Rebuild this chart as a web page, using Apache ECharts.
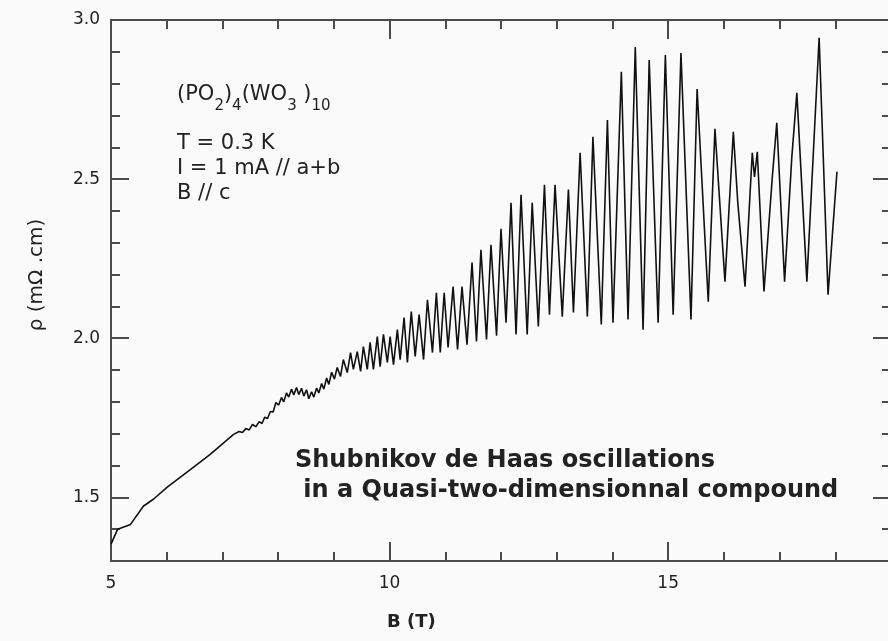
<!DOCTYPE html>
<html>
<head>
<meta charset="utf-8">
<title>Shubnikov de Haas oscillations</title>
<script src="https://cdn.jsdelivr.net/npm/echarts@6/dist/echarts.min.js"></script>
<style>
html, body { margin: 0; padding: 0; background: #fafafa; }
#chart { width: 888px; height: 641px; }
</style>
</head>
<body>
<div id="chart"></div>
<script>
// B (T) and rho (mOhm.cm)
var field = [
    5.00, 5.12, 5.35, 5.58, 5.76, 6.01, 6.43, 6.78, 7.20,
    7.30, 7.36, 7.42, 7.48, 7.54, 7.60, 7.66, 7.71, 7.76, 7.81, 7.86, 7.91, 7.96,
    8.01, 8.06, 8.10, 8.15, 8.19, 8.24, 8.28, 8.33, 8.37, 8.42, 8.46, 8.51, 8.55,
    8.60, 8.64, 8.69, 8.73, 8.78, 8.82, 8.87, 8.91, 8.96,
    9.01, 9.06, 9.12, 9.17, 9.24, 9.30, 9.35, 9.42, 9.48, 9.53, 9.60, 9.65, 9.71,
    9.78, 9.83, 9.89, 9.96,
    10.01, 10.07, 10.14, 10.19, 10.26, 10.32, 10.39, 10.46, 10.53, 10.61, 10.68,
    10.77, 10.84, 10.91, 10.98,
    11.05, 11.14, 11.22, 11.30, 11.39, 11.48, 11.56, 11.64, 11.74, 11.82, 11.92,
    12.00, 12.09, 12.18, 12.27, 12.36, 12.47, 12.56, 12.67, 12.78, 12.87, 12.97,
    13.10, 13.21, 13.30, 13.42, 13.55, 13.65, 13.80, 13.91,
    14.01, 14.16, 14.28, 14.41, 14.55, 14.66, 14.82, 14.95,
    15.09, 15.23, 15.41, 15.52, 15.72, 15.84, 15.97,
    16.02, 16.17, 16.25, 16.38, 16.51, 16.55, 16.60, 16.72, 16.87, 16.95,
    17.09, 17.22, 17.31, 17.49, 17.71, 17.87, 18.03
];
var resistivity = [
    1.353, 1.400, 1.415, 1.472, 1.494, 1.532, 1.588, 1.635, 1.698,
    1.707, 1.704, 1.716, 1.712, 1.729, 1.722, 1.738, 1.732, 1.752, 1.748, 1.770, 1.768, 1.798,
    1.790, 1.814, 1.800, 1.828, 1.815, 1.840, 1.822, 1.845, 1.823, 1.843, 1.818, 1.838, 1.810,
    1.832, 1.815, 1.843, 1.828, 1.858, 1.840, 1.875, 1.855, 1.893,
    1.872, 1.908, 1.880, 1.933, 1.892, 1.955, 1.902, 1.958, 1.896, 1.974, 1.902, 1.987, 1.902,
    2.005, 1.911, 2.012, 1.924,
    2.005, 1.917, 2.027, 1.933, 2.065, 1.924, 2.084, 1.943, 2.074, 1.933, 2.121,
    1.955, 2.143, 1.955, 2.143,
    1.971, 2.162, 1.965, 2.162, 1.980, 2.238, 1.990, 2.278, 1.996, 2.294, 2.008,
    2.344, 2.049, 2.426, 2.012, 2.451, 2.012, 2.426, 2.037, 2.482, 2.074, 2.482,
    2.068, 2.467, 2.081, 2.583, 2.068, 2.633, 2.043, 2.686,
    2.049, 2.837, 2.059, 2.915, 2.027, 2.874, 2.049, 2.890,
    2.074, 2.896, 2.059, 2.783, 2.115, 2.658, 2.310,
    2.178, 2.649, 2.426, 2.162, 2.583, 2.507, 2.586, 2.147, 2.507, 2.677,
    2.178, 2.570, 2.771, 2.178, 2.944, 2.137, 2.523
];
var xMajorTicks = [5, 10, 15];
var yMajorTicks = [1.5, 2.0, 2.5, 3.0];

var points = [];
for (var i = 0; i < field.length; i++) {
    points.push([field[i], resistivity[i]]);
}

var axisColor = '#4a4a4a';
var textColor = '#222';
var font = 'DejaVu Sans';

function xAxisDef(pos, major, withLabels) {
    return {
        type: 'value', min: 5, max: 19, interval: major ? 5 : 1, position: pos,
        axisLine: { show: !major, onZero: false, lineStyle: { color: axisColor, width: 2 } },
        axisTick: major
            ? { show: true, inside: true, length: 19, customValues: xMajorTicks, lineStyle: { color: axisColor, width: 2 } }
            : { show: true, inside: true, length: 9, lineStyle: { color: axisColor, width: 2 } },
        axisLabel: {
            show: withLabels, margin: 14, fontSize: 17, fontFamily: font, color: textColor,
            formatter: function (v) { return xMajorTicks.indexOf(v) >= 0 ? String(v) : ''; }
        },
        splitLine: { show: false }
    };
}

function yAxisDef(pos, major, withLabels) {
    return {
        type: 'value', min: 1.3, max: 3.0, interval: 0.1, position: pos,
        axisLine: { show: !major, onZero: false, lineStyle: { color: axisColor, width: 2 } },
        axisTick: major
            ? { show: true, inside: true, length: 18, customValues: yMajorTicks, lineStyle: { color: axisColor, width: 2 } }
            : { show: true, inside: true, length: 9, lineStyle: { color: axisColor, width: 2 } },
        axisLabel: {
            show: withLabels, margin: 11, fontSize: 17, fontFamily: font, color: textColor,
            formatter: function (v) {
                return Math.abs(v * 2 - Math.round(v * 2)) < 1e-6 ? v.toFixed(1) : '';
            }
        },
        splitLine: { show: false }
    };
}

var chart = echarts.init(document.getElementById('chart'), null, { renderer: 'canvas' });
chart.setOption({
    backgroundColor: '#fafafa',
    animation: false,
    grid: { left: 111, right: -3, top: 20, bottom: 80, outerBoundsMode: 'none', containLabel: false },
    title: [
        {
            text: '{n|(PO}{s|2}{n|)}{s|4}{n|(WO}{s|3}{n| )}{s|10}',
            left: 177, top: 84, padding: 0,
            textStyle: {
                rich: {
                    n: { fontFamily: font, fontSize: 21, fontWeight: 'normal', color: textColor, lineHeight: 12, verticalAlign: 'top' },
                    s: { fontFamily: font, fontSize: 15, fontWeight: 'normal', color: textColor, lineHeight: 30, verticalAlign: 'bottom' }
                }
            }
        },
        {
            text: 'T = 0.3 K\nI = 1 mA // a+b\nB // c',
            left: 177, top: 131, padding: 0,
            textStyle: { fontFamily: font, fontSize: 21, fontWeight: 'normal', lineHeight: 25, color: textColor }
        },
        {
            text: 'Shubnikov de Haas oscillations\n in a Quasi-two-dimensionnal compound',
            left: 295, top: 446, padding: 0,
            textStyle: { fontFamily: font, fontSize: 24, fontWeight: 'bold', lineHeight: 30, color: textColor }
        },
        {
            text: 'B (T)',
            left: 387, top: 612, padding: 0,
            textStyle: { fontFamily: font, fontSize: 18, fontWeight: 'bold', lineHeight: 20, color: textColor }
        }
    ],
    graphic: [{
        type: 'text', x: 37, y: 275, rotation: Math.PI / 2,
        style: { text: 'ρ (mΩ .cm)', font: '20px "DejaVu Sans"', fill: textColor, align: 'center', verticalAlign: 'middle' }
    }],
    xAxis: [
        xAxisDef('bottom', false, true),
        xAxisDef('bottom', true, false),
        xAxisDef('top', false, false),
        xAxisDef('top', true, false)
    ],
    yAxis: [
        yAxisDef('left', false, true),
        yAxisDef('left', true, false),
        yAxisDef('right', false, false),
        yAxisDef('right', true, false)
    ],
    series: [{
        type: 'line',
        xAxisIndex: 0,
        yAxisIndex: 0,
        data: points,
        showSymbol: false,
        symbol: 'none',
        lineStyle: { color: '#111', width: 1.6 }
    }]
});
</script>
</body>
</html>
